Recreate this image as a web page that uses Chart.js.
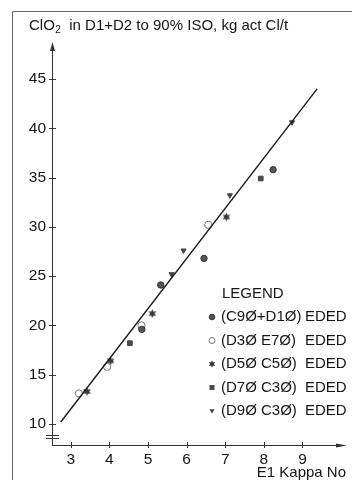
<!DOCTYPE html>
<html lang="en">
<head>
<meta charset="UTF-8">
<title>ClO2 in D1+D2 vs E1 Kappa No</title>
<script src="https://cdn.jsdelivr.net/npm/chart.js"></script>
<style>
  html, body { margin: 0; padding: 0; background: #fff; }
  canvas { display: block; }
</style>
</head>
<body>
<canvas id="chart" width="352" height="480"></canvas>
<script>
// values
const xTicks = [3, 4, 5, 6, 7, 8, 9];
const yTicks = [10, 15, 20, 25, 30, 35, 40, 45];

const c90X = [4.84, 5.33, 6.45, 8.24];
const c90Y = [19.6, 24.1, 26.8, 35.8];

const d30X = [3.21, 3.94, 4.83, 6.56];
const d30Y = [13.1, 15.8, 20.0, 30.2];

const d50X = [3.42, 4.03, 5.11, 7.03];
const d50Y = [13.3, 16.4, 21.2, 31.0];

const d70X = [4.53, 7.92];
const d70Y = [18.2, 34.9];

const d90X = [5.61, 5.92, 7.12, 8.73];
const d90Y = [25.2, 27.6, 33.2, 40.6];

// fitted line end points
const fitX = [2.74, 9.38];
const fitY = [10.2, 44.0];

const seriesNames = ['(C9Ø+D1Ø)', '(D3Ø E7Ø)', '(D5Ø C5Ø)', '(D7Ø C3Ø)', '(D9Ø C3Ø)'];
const seriesTag = 'EDED';

const FONT = '"Liberation Sans", Arial, sans-serif';
const INK = '#151515';

function pts(xs, ys) {
    return xs.map((x, i) => ({ x: x, y: ys[i] }));
}

// six pointed star used as a point style
function makeStar(r) {
    const c = document.createElement('canvas');
    c.width = c.height = Math.ceil(r * 2 + 2);
    const g = c.getContext('2d');
    const cx = c.width / 2, cy = c.height / 2;
    g.beginPath();
    for (let i = 0; i < 12; i++) {
        const a = -Math.PI / 2 + i * Math.PI / 6;
        const rr = i % 2 === 0 ? r : r * 0.5;
        g.lineTo(cx + rr * Math.cos(a), cy + rr * Math.sin(a));
    }
    g.closePath();
    g.fillStyle = '#3a3a3a';
    g.fill();
    return c;
}
const starBig = makeStar(4.4);
const starSmall = makeStar(3.8);

function drawMarker(ctx, kind, x, y) {
    ctx.save();
    ctx.lineWidth = 1;
    if (kind === 0) {
        ctx.beginPath(); ctx.arc(x, y, 2.8, 0, Math.PI * 2);
        ctx.fillStyle = '#555'; ctx.fill();
        ctx.strokeStyle = '#333'; ctx.stroke();
    } else if (kind === 1) {
        ctx.beginPath(); ctx.arc(x, y, 3, 0, Math.PI * 2);
        ctx.strokeStyle = '#777'; ctx.stroke();
    } else if (kind === 2) {
        ctx.drawImage(starSmall, x - starSmall.width / 2, y - starSmall.height / 2);
    } else if (kind === 3) {
        ctx.fillStyle = '#4a4a4a'; ctx.fillRect(x - 2.5, y - 2.5, 5, 5);
    } else {
        ctx.beginPath();
        ctx.moveTo(x - 2.6, y - 1.8); ctx.lineTo(x + 2.6, y - 1.8); ctx.lineTo(x, y + 2.6);
        ctx.closePath(); ctx.fillStyle = '#444'; ctx.fill();
    }
    ctx.restore();
}

const decor = {
    id: 'decor',
    afterDraw(chart) {
        const ctx = chart.ctx;
        const xs = chart.scales.x, ys = chart.scales.y;
        const x0 = xs.left, yb = ys.bottom;
        ctx.save();

        // frame
        ctx.strokeStyle = '#666';
        ctx.lineWidth = 1;
        ctx.beginPath();
        ctx.moveTo(12.5, 480); ctx.lineTo(12.5, 11.5); ctx.lineTo(352, 11.5);
        ctx.stroke();

        // title
        ctx.fillStyle = INK;
        ctx.textBaseline = 'alphabetic';
        ctx.textAlign = 'left';
        ctx.font = '15px ' + FONT;
        let tx = 29;
        ctx.fillText('ClO', tx, 30);
        tx += ctx.measureText('ClO').width + 0.5;
        ctx.font = '10px ' + FONT;
        ctx.fillText('2', tx, 33);
        tx += ctx.measureText('2').width;
        ctx.font = '15px ' + FONT;
        ctx.fillText('  in D1+D2 to 90% ISO, kg act Cl/t', tx, 30);

        // axes
        ctx.strokeStyle = '#333';
        ctx.fillStyle = '#333';
        ctx.lineWidth = 1;
        ctx.beginPath();
        ctx.moveTo(x0 + 0.5, yb + 0.5); ctx.lineTo(x0 + 0.5, ys.top + 6);
        ctx.moveTo(x0, yb + 0.5); ctx.lineTo(xs.right - 8, yb + 0.5);
        ctx.stroke();
        // arrow heads
        ctx.beginPath();
        ctx.moveTo(x0 + 0.5, ys.top); ctx.lineTo(x0 - 2, ys.top + 9); ctx.lineTo(x0 + 3, ys.top + 9);
        ctx.closePath(); ctx.fill();
        ctx.beginPath();
        ctx.moveTo(xs.right, yb + 0.5); ctx.lineTo(xs.right - 11, yb - 1.5); ctx.lineTo(xs.right - 11, yb + 2.5);
        ctx.closePath(); ctx.fill();

        // tick marks
        ctx.beginPath();
        yTicks.forEach(v => {
            const py = Math.round(ys.getPixelForValue(v)) + 0.5;
            ctx.moveTo(x0 - 3, py); ctx.lineTo(x0 + 4, py);
        });
        xTicks.forEach(v => {
            const px = Math.round(xs.getPixelForValue(v)) + 0.5;
            ctx.moveTo(px, yb - 3); ctx.lineTo(px, yb + 3);
        });
        // axis break
        ctx.moveTo(x0 - 6, 435.5); ctx.lineTo(x0 + 7, 435.5);
        ctx.moveTo(x0 - 6, 438.5); ctx.lineTo(x0 + 7, 438.5);
        ctx.stroke();

        // x axis title
        ctx.fillStyle = INK;
        ctx.font = '15px ' + FONT;
        ctx.textAlign = 'right';
        ctx.textBaseline = 'middle';
        ctx.fillText('E1 Kappa No', 346, 473);

        // legend
        ctx.textAlign = 'left';
        ctx.fillText('LEGEND', 222, 294);
        seriesNames.forEach((name, i) => {
            const ly = 317 + i * 23.5;
            drawMarker(ctx, i, 212, ly);
            ctx.fillStyle = INK;
            ctx.fillText(name, 221, ly);
            ctx.fillText(seriesTag, 305, ly);
        });
        ctx.restore();
    }
};

const ctx = document.getElementById('chart').getContext('2d');
const chart = new Chart(ctx, {
    type: 'scatter',
    data: {
        datasets: [
            {
                label: 'fit', data: pts(fitX, fitY), showLine: true,
                borderColor: '#1a1a1a', borderWidth: 1.4, pointRadius: 0
            },
            {
                label: seriesNames[0], data: pts(c90X, c90Y), pointStyle: 'circle',
                pointRadius: 3.2, backgroundColor: '#555', borderColor: '#333', borderWidth: 1
            },
            {
                label: seriesNames[1], data: pts(d30X, d30Y), pointStyle: 'circle',
                pointRadius: 3.6, backgroundColor: '#fff', borderColor: '#777', borderWidth: 1
            },
            {
                label: seriesNames[2], data: pts(d50X, d50Y), pointStyle: starBig
            },
            {
                label: seriesNames[3], data: pts(d70X, d70Y), pointStyle: 'rect',
                pointRadius: 3.3, backgroundColor: '#4a4a4a', borderColor: '#444', borderWidth: 1
            },
            {
                label: seriesNames[4], data: pts(d90X, d90Y), pointStyle: 'triangle',
                rotation: 180, pointRadius: 3, backgroundColor: '#444', borderColor: '#444', borderWidth: 1
            }
        ]
    },
    options: {
        responsive: false,
        animation: false,
        events: [],
        layout: { padding: { top: 42, right: 2, left: 0, bottom: 0 } },
        plugins: { legend: { display: false }, tooltip: { enabled: false } },
        scales: {
            x: {
                type: 'linear', min: 2.513, max: 10.154,
                grid: { display: false, drawTicks: false }, border: { display: false },
                afterBuildTicks: s => { s.ticks = xTicks.map(v => ({ value: v })); },
                afterFit: s => { s.height = 35; },
                ticks: { padding: 5, color: INK, font: { family: FONT, size: 15.5 }, maxRotation: 0, autoSkip: false }
            },
            y: {
                type: 'linear', min: 7.87, max: 48.75,
                grid: { display: false, drawTicks: false }, border: { display: false },
                afterBuildTicks: s => { s.ticks = yTicks.map(v => ({ value: v })); },
                afterFit: s => { s.width = 52; },
                ticks: { padding: 6, color: INK, font: { family: FONT, size: 15.5 }, autoSkip: false }
            }
        }
    },
    plugins: [decor]
});
</script>
</body>
</html>
